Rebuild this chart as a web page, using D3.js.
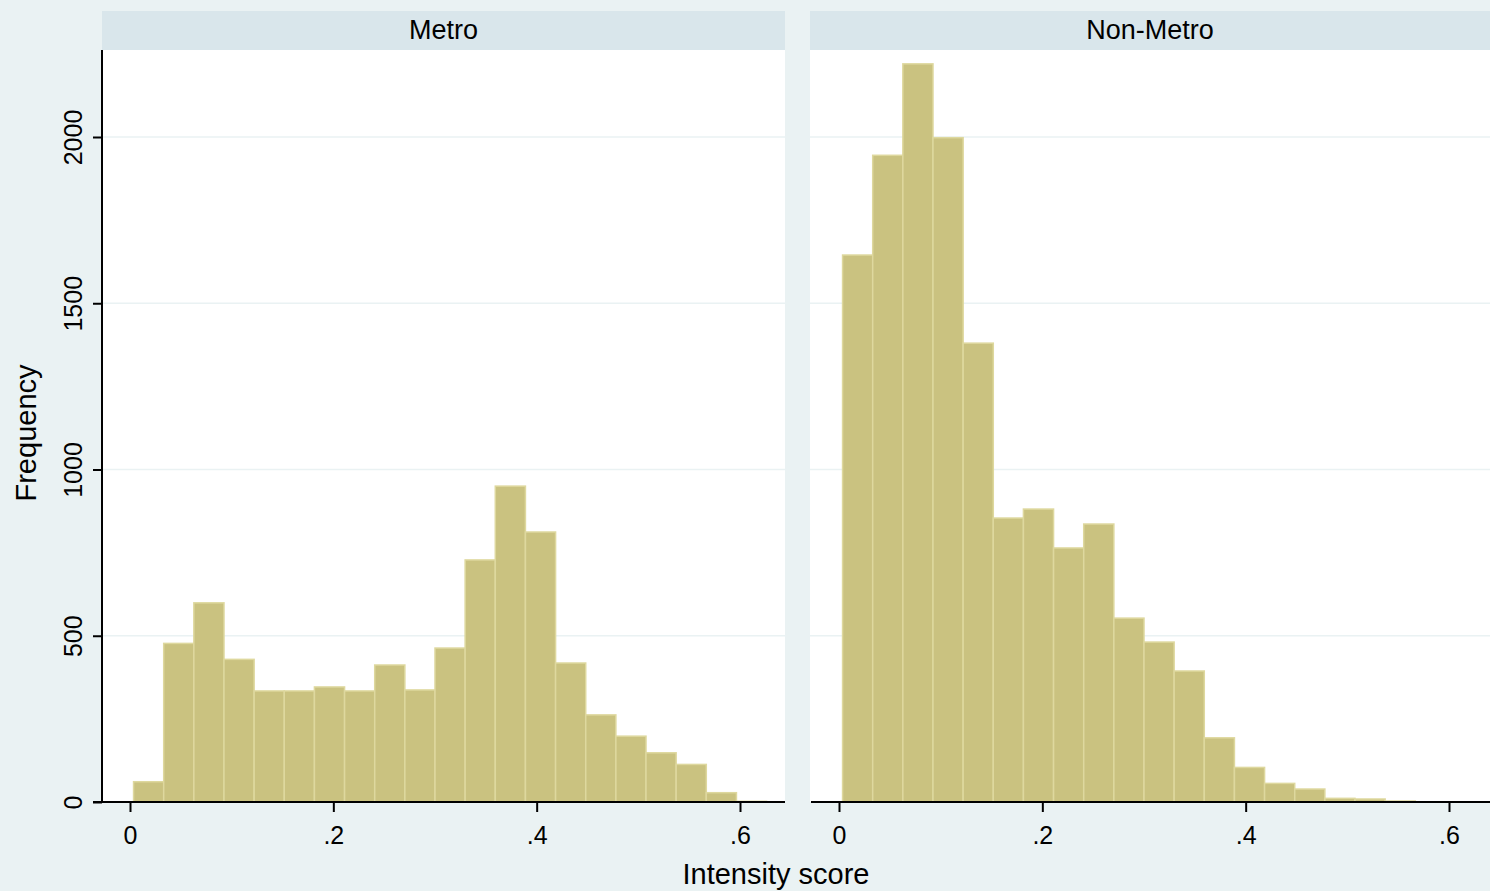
<!DOCTYPE html>
<html>
<head>
<meta charset="utf-8">
<script src="https://cdn.jsdelivr.net/npm/d3@7"></script>
<style>
  body { margin: 0; background: #eaf2f3; }
  text { font-family: "Liberation Sans", Arial, sans-serif; fill: #000; }
</style>
</head>
<body>
<div id="chart"></div>
<script>

// bins shared by both panels
var binStart = 0.0035,
    binWidth = 0.02965;

// frequencies
var metroCounts = [61, 477, 599, 429, 334, 334, 346, 334, 412, 337, 463, 728, 950, 812, 418, 262, 198, 148, 113, 28, 2];
var nonMetroCounts = [1645, 1945, 2220, 1998, 1380, 854, 881, 764, 836, 553, 481, 394, 193, 104, 56, 39, 11, 9, 3];

var panelTitles = ["Metro", "Non-Metro"];
var xTicks = [0, 0.2, 0.4, 0.6];
var yTicks = [0, 500, 1000, 1500, 2000];

var W = 1490, H = 891;

var svg = d3.select("#chart")
  .append("svg")
    .attr("width", W)
    .attr("height", H);

svg.append("rect")
  .attr("width", W).attr("height", H)
  .attr("fill", "#eaf2f3");

var y = d3.scaleLinear()
  .domain([0, 2000])
  .range([802, 137]);

var panels = [
  {title: panelTitles[0], counts: metroCounts, left: 102, right: 785, x0: 130, yAxis: true},
  {title: panelTitles[1], counts: nonMetroCounts, left: 810, right: 1490, x0: 839, yAxis: false}
];

panels.forEach(function(p) {
  var x = d3.scaleLinear()
    .domain([0, 0.6])
    .range([p.x0, p.x0 + 610]);

  // header strip
  svg.append("rect")
    .attr("x", p.left).attr("y", 11)
    .attr("width", p.right - p.left).attr("height", 39)
    .attr("fill", "#d9e6eb");
  svg.append("text")
    .attr("x", (p.left + p.right) / 2)
    .attr("y", 39)
    .attr("text-anchor", "middle")
    .style("font-size", "27px")
    .text(p.title);

  // plot region
  svg.append("rect")
    .attr("x", p.left).attr("y", 50)
    .attr("width", p.right - p.left).attr("height", 752)
    .attr("fill", "#ffffff");

  // gridlines
  svg.append("g")
    .selectAll("line")
    .data(yTicks.filter(function(d) { return d > 0; }))
    .enter()
    .append("line")
      .attr("x1", p.left).attr("x2", p.right)
      .attr("y1", function(d) { return y(d); })
      .attr("y2", function(d) { return y(d); })
      .attr("stroke", "#eaf2f3")
      .attr("stroke-width", 1.5);

  // bars
  svg.append("g")
    .selectAll("rect")
    .data(p.counts)
    .enter()
    .append("rect")
      .attr("x", function(d, i) { return x(binStart + i * binWidth); })
      .attr("width", function(d, i) { return x(binStart + (i + 1) * binWidth) - x(binStart + i * binWidth); })
      .attr("y", function(d) { return y(d); })
      .attr("height", function(d) { return y(0) - y(d); })
      .attr("fill", "#cac280")
      .attr("stroke", "#ded89e")
      .attr("stroke-width", 1.5);

  // x axis
  var xAxis = d3.axisBottom(x)
    .tickValues(xTicks)
    .tickSize(10)
    .tickPadding(0)
    .tickFormat(function(d) { return d === 0 ? "0" : d3.format(".1f")(d).replace(/^0/, ""); });
  var gx = svg.append("g")
    .attr("transform", "translate(0," + y(0) + ")")
    .call(xAxis);
  gx.select(".domain")
    .attr("d", "M" + (p.yAxis ? p.left - 9 : p.left + 1) + ",0H" + p.right)
    .attr("stroke", "#000").attr("stroke-width", 2);
  gx.selectAll(".tick line").attr("stroke", "#000").attr("stroke-width", 2);
  gx.selectAll(".tick text")
    .attr("y", 42).attr("dy", 0)
    .style("font-size", "25px")
    .style("font-family", "Liberation Sans, Arial, sans-serif")
    .attr("fill", "#000");

  // y axis (left panel only)
  if (p.yAxis) {
    var gy = svg.append("g")
      .attr("transform", "translate(" + p.left + ",0)")
      .call(d3.axisLeft(y).tickValues(yTicks).tickSize(9).tickPadding(0).tickFormat(d3.format("d")));
    gy.select(".domain")
      .attr("d", "M0,50V" + (y(0) + 1))
      .attr("stroke", "#000").attr("stroke-width", 2);
    gy.selectAll(".tick line").attr("stroke", "#000").attr("stroke-width", 2);
    gy.selectAll(".tick text")
      .attr("x", 0).attr("dy", 0)
      .attr("transform", "translate(-20,0) rotate(-90)")
      .attr("text-anchor", "middle")
      .style("font-size", "25px")
      .style("font-family", "Liberation Sans, Arial, sans-serif")
      .attr("fill", "#000");
  }
});

// axis titles
svg.append("text")
  .attr("transform", "translate(36,433) rotate(-90)")
  .attr("text-anchor", "middle")
  .style("font-size", "29px")
  .text("Frequency");

svg.append("text")
  .attr("x", 776)
  .attr("y", 884)
  .attr("text-anchor", "middle")
  .style("font-size", "29px")
  .text("Intensity score");

</script>
</body>
</html>
